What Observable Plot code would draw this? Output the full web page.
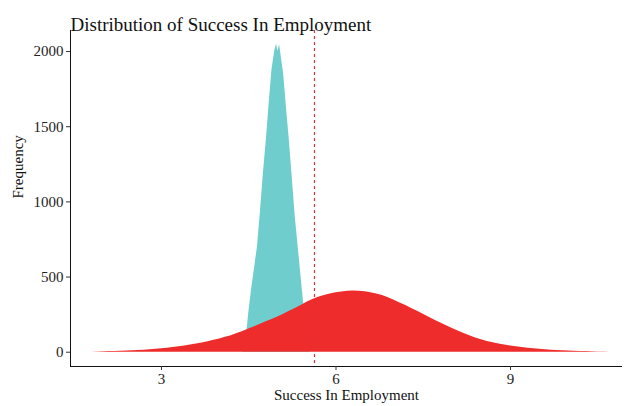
<!DOCTYPE html>
<html><head><meta charset="utf-8">
<script src="https://cdn.jsdelivr.net/npm/d3@7"></script>
<script src="https://cdn.jsdelivr.net/npm/@observablehq/plot@0.6"></script>
<style>
body{margin:0;background:#fff;}
#wrap{width:624px;height:406px;}
</style></head><body><div id="wrap"></div>
<script>
const titleText = "Distribution of Success In Employment";
const xLabel = "Success In Employment";
const yLabel = "Frequency";

const tealX = [4.40,4.45,4.50,4.55,4.60,4.65,4.70,4.75,4.80,4.85,4.90,4.95,4.98,5.00,5.03,5.05,5.10,5.15,5.20,5.25,5.30,5.35,5.40,5.45,5.50,5.55];
const tealCount = [0,60,260,420,560,700,930,1180,1400,1650,1880,2010,2050,2000,2045,1990,1850,1620,1400,1150,900,700,500,300,100,0];

const redX = [1.8,1.9,2.0,2.1,2.2,2.3,2.4,2.5,2.6,2.7,2.8,2.9,3.0,3.1,3.2,3.3,3.4,3.5,3.6,3.7,3.8,3.9,4.0,4.1,4.2,4.3,4.4,4.5,4.6,4.7,4.8,4.9,5.0,5.1,5.2,5.3,5.4,5.5,5.6,5.7,5.8,5.9,6.0,6.1,6.2,6.3,6.4,6.5,6.6,6.7,6.8,6.9,7.0,7.1,7.2,7.3,7.4,7.5,7.6,7.7,7.8,7.9,8.0,8.1,8.2,8.3,8.4,8.5,8.6,8.7,8.8,8.9,9.0,9.1,9.2,9.3,9.4,9.5,9.6,9.7,9.8,9.9,10.0,10.1,10.2,10.3,10.4,10.5,10.6,10.7];
const redCount = [0,2,3,4,5,6,8,9,11,13,16,19,23,27,32,37,42,48,54,62,70,79,88,99,110,124,138,154,170,186,202,218,235,253,272,291,310,332,350,366,378,388,396,401,405,407,405,402,396,388,377,362,345,328,310,291,272,252,232,213,195,176,158,141,124,109,95,83,72,63,55,48,42,36,31,27,23,19,16,13,11,9,8,6,5,4,3,2,2,0];

const cutoff = [5.63];
const yTicks = [0,500,1000,1500,2000];
const xTicks = [3,6,9];

const teal = tealX.map((x,i)=>({x, n: tealCount[i]}));
const red = redX.map((x,i)=>({x, n: redCount[i]}));

const xDom = [1.436, 10.925];
const yDom = [-95, 2140];
const font = "'Liberation Serif','Times New Roman',serif";

const chart = Plot.plot({
  width: 624, height: 406,
  marginTop: 30, marginBottom: 40, marginLeft: 70, marginRight: 2,
  x: {domain: xDom},
  y: {domain: yDom},
  style: {fontFamily: font, background: "white", color: "#222"},
  marks: [
    Plot.areaY(teal, {x: "x", y: "n", fill: "#70cdcd"}),
    Plot.areaY(red, {x: "x", y: "n", fill: "#ee2c2c"}),
    Plot.ruleX(cutoff, {stroke: "#e0303c", strokeWidth: 1.2, strokeDasharray: "3,3"}),
    Plot.ruleX([xDom[0]], {stroke: "#111", strokeWidth: 1}),
    Plot.ruleY([yDom[0]], {stroke: "#111", strokeWidth: 1}),
    Plot.axisY({ticks: yTicks, tickFormat: d => String(d), tickSize: 4, tickPadding: 3, fontSize: 15, label: null, stroke: "#333"}),
    Plot.axisX({ticks: xTicks, tickFormat: d => String(d), tickSize: 4, tickPadding: 3, fontSize: 15, label: null, stroke: "#333"}),
    Plot.text([yLabel], {frameAnchor: "left", dx: -52, rotate: -90, fontSize: 15, fill: "#111"}),
    Plot.text([xLabel], {frameAnchor: "bottom", dy: 33, fontSize: 15, fill: "#111"}),
    Plot.text([titleText], {frameAnchor: "top-left", dy: -13, textAnchor: "start", fontSize: 19, fill: "#111"})
  ]
});
document.getElementById("wrap").appendChild(chart);
</script></body></html>
